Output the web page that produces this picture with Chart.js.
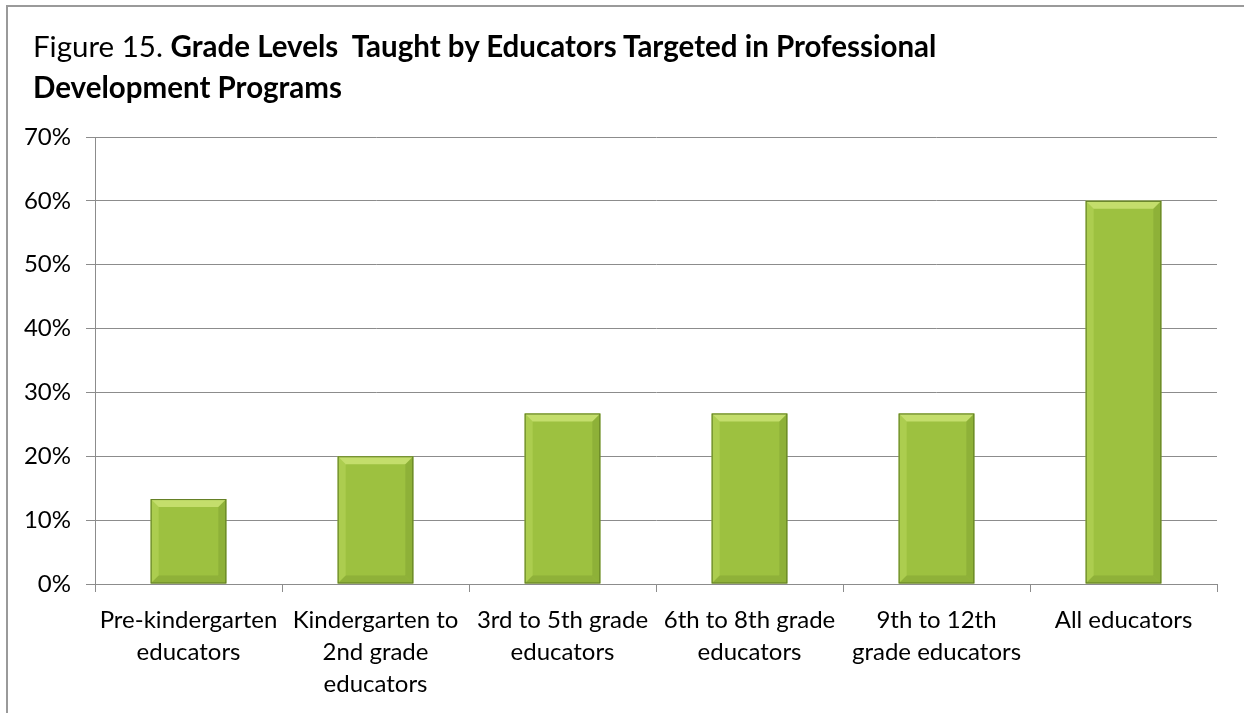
<!DOCTYPE html>
<html>
<head>
<meta charset="utf-8">
<script src="https://cdn.jsdelivr.net/npm/chart.js@4.4.1/dist/chart.umd.min.js"></script>
<style>
  html, body { margin: 0; padding: 0; background: #fff; }
  #wrap { position: relative; width: 1244px; height: 713px; overflow: hidden; }
  #frame { position: absolute; left: 6px; top: 5px; width: 1400px; height: 900px;
           border: 2px solid #9a9a9a; box-sizing: border-box; }
  #title { position: absolute; left: 33px; top: 25px; font-family: Lato, sans-serif;
           font-size: 29.5px; line-height: 41px; color: #000; }
  #title b { font-weight: bold; }
  canvas { position: absolute; left: 0; top: 0; }
</style>
</head>
<body>
<div id="wrap">
  <div id="frame"></div>
  <canvas id="gradeChart" width="1244" height="713"></canvas>
  <div id="title">Figure 15. <b>Grade Levels&nbsp; Taught by Educators Targeted in Professional<br>Development Programs</b></div>
</div>
<script>
const categories = [
    ['Pre-kindergarten', 'educators'],
    ['Kindergarten to', '2nd grade', 'educators'],
    ['3rd to 5th grade', 'educators'],
    ['6th to 8th grade', 'educators'],
    ['9th to 12th', 'grade educators'],
    ['All educators']
];
const shares = [13.3, 20.0, 26.7, 26.7, 26.7, 60.0];
const yTicks = [0, 10, 20, 30, 40, 50, 60, 70];

const axisGrey = '#8c8c8c';
const labelFont = { family: 'Lato, sans-serif', size: 24 };

// horizontal gradient for each bar body
function barFill(context) {
    const bar = context.element;
    const ctx = context.chart.ctx;
    if (!bar || bar.x === undefined || isNaN(bar.x)) return '#9dc140';
    const half = bar.width / 2;
    const g = ctx.createLinearGradient(bar.x - half, 0, bar.x + half, 0);
    g.addColorStop(0, '#98bd3e');
    g.addColorStop(0.5, '#a6cb50');
    g.addColorStop(1, '#93b73a');
    return g;
}

// soft bevel drawn on top of every bar
const bevelPlugin = {
    id: 'bevel',
    afterDatasetsDraw(chart) {
        const ctx = chart.ctx;
        chart.getDatasetMeta(0).data.forEach(bar => {
            const l = bar.x - bar.width / 2, r = bar.x + bar.width / 2;
            const t = bar.y, b = bar.base;
            const d = Math.min(8, (b - t) / 3);
            ctx.save();
            // top
            ctx.fillStyle = '#c4de6c';
            ctx.beginPath();
            ctx.moveTo(l, t); ctx.lineTo(r, t); ctx.lineTo(r - d, t + d); ctx.lineTo(l + d, t + d);
            ctx.closePath(); ctx.fill();
            // left
            ctx.fillStyle = 'rgba(200,228,110,0.35)';
            ctx.beginPath();
            ctx.moveTo(l, t); ctx.lineTo(l + d, t + d); ctx.lineTo(l + d, b - d); ctx.lineTo(l, b);
            ctx.closePath(); ctx.fill();
            // right
            ctx.fillStyle = 'rgba(100,130,30,0.25)';
            ctx.beginPath();
            ctx.moveTo(r, t); ctx.lineTo(r - d, t + d); ctx.lineTo(r - d, b - d); ctx.lineTo(r, b);
            ctx.closePath(); ctx.fill();
            // bottom
            ctx.fillStyle = 'rgba(95,125,30,0.22)';
            ctx.beginPath();
            ctx.moveTo(l, b); ctx.lineTo(l + d, b - d); ctx.lineTo(r - d, b - d); ctx.lineTo(r, b);
            ctx.closePath(); ctx.fill();
            // outline
            ctx.strokeStyle = '#5e7a22';
            ctx.lineWidth = 1;
            ctx.strokeRect(l + 0.5, t + 0.5, r - l - 1, b - t - 1);
            ctx.restore();
        });
    }
};

new Chart(document.getElementById('gradeChart'), {
    type: 'bar',
    data: {
        labels: categories,
        datasets: [{
            data: shares,
            backgroundColor: barFill,
            borderWidth: 0,
            barPercentage: 0.81,
            categoryPercentage: 0.5
        }]
    },
    options: {
        responsive: false,
        animation: false,
        layout: { padding: { top: 137, right: 27, left: 0, bottom: 0 } },
        plugins: {
            legend: { display: false },
            tooltip: { enabled: false }
        },
        scales: {
            y: {
                min: yTicks[0],
                max: yTicks[yTicks.length - 1],
                afterBuildTicks: scale => { scale.ticks = yTicks.map(v => ({ value: v })); },
                afterFit: scale => { scale.width = 95; },
                ticks: {
                    callback: v => v + '%',
                    color: '#000',
                    font: labelFont,
                    padding: 15
                },
                grid: { color: axisGrey, lineWidth: 1, tickLength: 9 },
                border: { color: axisGrey, width: 1 }
            },
            x: {
                afterFit: scale => { scale.height = 129; },
                ticks: {
                    color: '#000',
                    font: { ...labelFont, lineHeight: 1.34 },
                    maxRotation: 0,
                    autoSkip: false,
                    padding: 12
                },
                grid: { drawOnChartArea: false, color: axisGrey, tickLength: 8 },
                border: { color: axisGrey, width: 1 }
            }
        }
    },
    plugins: [bevelPlugin]
});
</script>
</body>
</html>
